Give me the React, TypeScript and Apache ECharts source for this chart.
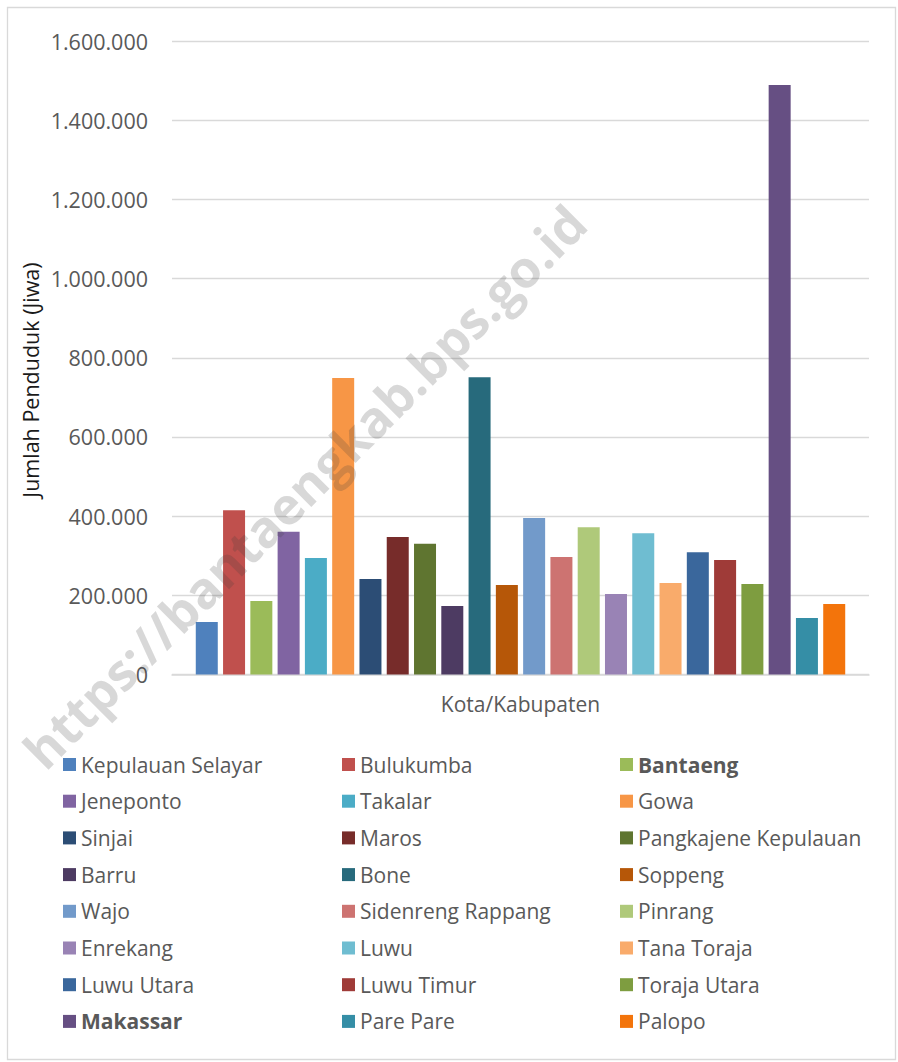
import React, { useEffect, useRef } from "react";
import * as echarts from "echarts";

const regions = [
  "Kepulauan Selayar", "Bulukumba", "Bantaeng", "Jeneponto", "Takalar", "Gowa",
  "Sinjai", "Maros", "Pangkajene Kepulauan", "Barru", "Bone", "Soppeng",
  "Wajo", "Sidenreng Rappang", "Pinrang", "Enrekang", "Luwu", "Tana Toraja",
  "Luwu Utara", "Luwu Timur", "Toraja Utara", "Makassar", "Pare Pare", "Palopo",
];
const population = [
  132600, 415000, 185500, 360500, 294500, 749000,
  241000, 347000, 330000, 173000, 751000, 226000,
  395000, 297000, 372000, 203000, 357000, 231000,
  309000, 289000, 228600, 1489000, 143000, 178000,
];
const colors = [
  "#4F81BD", "#C0504D", "#9BBB59", "#8064A2", "#4BACC6", "#F79646",
  "#2C4D75", "#772C2A", "#5F7530", "#4D3B62", "#276A7C", "#B65708",
  "#729ACA", "#CD7371", "#AFC97A", "#9983B5", "#6FBDD1", "#F9AB6B",
  "#3A679C", "#9F3B38", "#7E9D40", "#664F83", "#358EA6", "#F3740B",
];
const boldNames = ["Bantaeng", "Makassar"];
const categories = ["Kota/Kabupaten"];
const yAxisTitle = "Jumlah Penduduk (Jiwa)";
const watermark = "https://bantaengkab.bps.go.id";

const FONT = "'Open Sans', sans-serif";
const GRAY = "#595959";

function fmt(v: number): string {
  return String(Math.round(v)).replace(/\B(?=(\d{3})+(?!\d))/g, ".");
}

export default function App() {
  const ref = useRef<HTMLDivElement>(null);
  useEffect(() => {
    document.body.style.margin = "0";
    if (!ref.current) return;
    const chart = echarts.init(ref.current, null, { renderer: "svg" });

    const series = regions.map((name, i) => ({
      name,
      type: "bar",
      barWidth: 22,
      barGap: "24%",
      itemStyle: { color: colors[i] },
      data: [population[i]],
    }));

    const colX = [63, 342, 620];
    const legends = colX.map((left, c) => ({
      orient: "vertical",
      left,
      top: 754,
      padding: 0,
      itemWidth: 13,
      itemHeight: 13,
      itemGap: 15.7,
      icon: "rect",
      selectedMode: false,
      data: regions.filter((_, i) => i % 3 === c),
      formatter: (name: string) => (boldNames.includes(name) ? `{b|${name}}` : name),
      textStyle: {
        fontFamily: FONT,
        fontSize: 21,
        color: GRAY,
        lineHeight: 21,
        rich: {
          b: { fontFamily: FONT, fontSize: 21, fontWeight: "bold", color: GRAY, lineHeight: 21 },
        },
      },
    }));

    chart.setOption({
      animation: false,
      backgroundColor: "#ffffff",
      grid: { left: 172, right: 29, top: 41, bottom: 387.5, containLabel: false },
      xAxis: {
        type: "category",
        data: categories,
        axisLine: { show: true, lineStyle: { color: "#d9d9d9", width: 1.5 } },
        axisTick: { show: false },
        axisLabel: { margin: 19, fontFamily: FONT, fontSize: 21, color: GRAY },
      },
      yAxis: {
        type: "value",
        min: 0,
        max: 1600000,
        interval: 200000,
        axisLine: { show: false },
        axisTick: { show: false },
        splitLine: { lineStyle: { color: "#d9d9d9", width: 1.3 } },
        axisLabel: {
          margin: 24,
          fontFamily: FONT,
          fontSize: 21.5,
          color: GRAY,
          formatter: (v: number) => fmt(v),
        },
      },
      legend: legends,
      series,
      graphic: [
        {
          type: "rect",
          left: 5,
          top: 5,
          shape: { x: 0, y: 0, width: 888, height: 1052 },
          style: { fill: "none", stroke: "#d9d9d9", lineWidth: 1.3 },
          silent: true,
          z: -10,
        },
        {
          type: "text",
          x: 30,
          y: 380,
          rotation: Math.PI / 2,
          style: {
            text: yAxisTitle,
            fontFamily: FONT,
            fontSize: 21.5,
            fill: "#1a1a1a",
            textAlign: "center",
            textVerticalAlign: "middle",
          },
        },
        {
          type: "text",
          x: 304,
          y: 486,
          rotation: Math.PI / 4,
          z: 100,
          silent: true,
          style: {
            text: watermark,
            fontFamily: FONT,
            fontSize: 51,
            fontWeight: "bold",
            fill: "rgba(60,60,60,0.2)",
            textAlign: "center",
            textVerticalAlign: "middle",
          },
        },
      ],
    });
    return () => chart.dispose();
  }, []);
  return <div ref={ref} style={{ width: 898, height: 1062 }} />;
}
